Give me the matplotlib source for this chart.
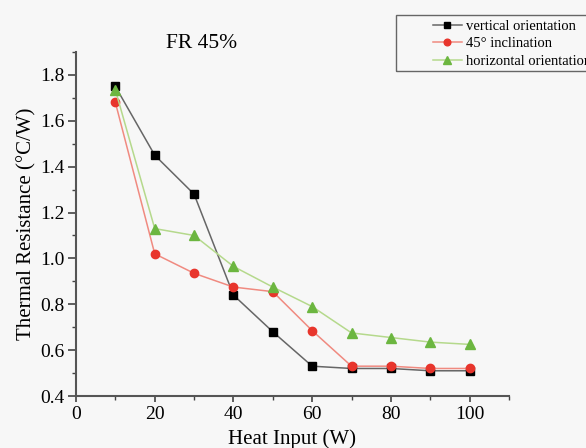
import matplotlib.pyplot as plt
from matplotlib.patches import Rectangle

plt.rcParams['font.family'] = ['Liberation Serif', 'DejaVu Serif']

# Heat input (W)
heat_input = [10, 20, 30, 40, 50, 60, 70, 80, 90, 100]

# Thermal resistance (C/W) per orientation
vertical = [1.75, 1.45, 1.28, 0.84, 0.68, 0.53, 0.52, 0.52, 0.51, 0.51]
inclined_45 = [1.68, 1.02, 0.935, 0.875, 0.855, 0.685, 0.53, 0.53, 0.52, 0.52]
horizontal = [1.735, 1.13, 1.10, 0.965, 0.875, 0.79, 0.675, 0.655, 0.635, 0.625]

W, H = 586, 448
fig = plt.figure(figsize=(W / 100, H / 100), dpi=100)
fig.patch.set_facecolor('#f7f7f7')
ax = fig.add_axes([76 / W, 1 - 396 / H, 433 / W, 344 / H])
ax.set_facecolor('#f7f7f7')

ax.plot(heat_input, vertical, color='#666666', lw=1.1, marker='s', ms=5.5,
        mfc='black', mec='black', label='vertical orientation')
ax.plot(heat_input, inclined_45, color='#f08a80', lw=1.1, marker='o', ms=6,
        mfc='#e8352c', mec='#e8352c', label='45° inclination')
ax.plot(heat_input, horizontal, color='#b5d98c', lw=1.1, marker='^', ms=6.5,
        mfc='#6cb640', mec='#6cb640', label='horizontal orientation')

ax.set_xlim(0, 110)
ax.set_ylim(0.4, 1.9)
ax.set_xticks([0, 20, 40, 60, 80, 100])
ax.set_xticks([10, 30, 50, 70, 90, 110], minor=True)
ax.set_yticks([0.4, 0.6, 0.8, 1.0, 1.2, 1.4, 1.6, 1.8])
ax.set_yticks([0.5, 0.7, 0.9, 1.1, 1.3, 1.5, 1.7, 1.9], minor=True)
ax.tick_params(axis='both', which='major', labelsize=14, width=1.2, direction='out',
               color='#444444')
ax.tick_params(axis='y', which='major', length=6, pad=2)
ax.tick_params(axis='x', which='major', length=4, pad=3)
ax.tick_params(axis='both', which='minor', length=3, width=1.0, direction='out',
               color='#444444')

for s in ['top', 'right']:
    ax.spines[s].set_visible(False)
for s in ['left', 'bottom']:
    ax.spines[s].set_linewidth(1.5)
    ax.spines[s].set_color('#555555')

ax.set_xlabel('Heat Input (W)', fontsize=15, labelpad=5)
ax.set_ylabel('Thermal Resistance (°C/W)', fontsize=15, labelpad=3)
fig.text(202 / W, 1 - 43 / H, 'FR 45%', fontsize=15.5, ha='center', va='center')

# legend frame runs off the right edge of the figure
fig.patches.append(Rectangle((396 / W, 1 - 71 / H), 220 / W, 56 / H,
                             transform=fig.transFigure, fill=False,
                             edgecolor='#666666', lw=1.0))
leg = fig.legend(loc='upper left', bbox_to_anchor=(421 / W, 1 - 8 / H),
                 fontsize=10.5, frameon=False, handlelength=2.0, markerscale=0.8,
                 borderpad=0.3, labelspacing=0.3, handletextpad=0.3)

fig.savefig('out.png', dpi=100, facecolor=fig.get_facecolor())
